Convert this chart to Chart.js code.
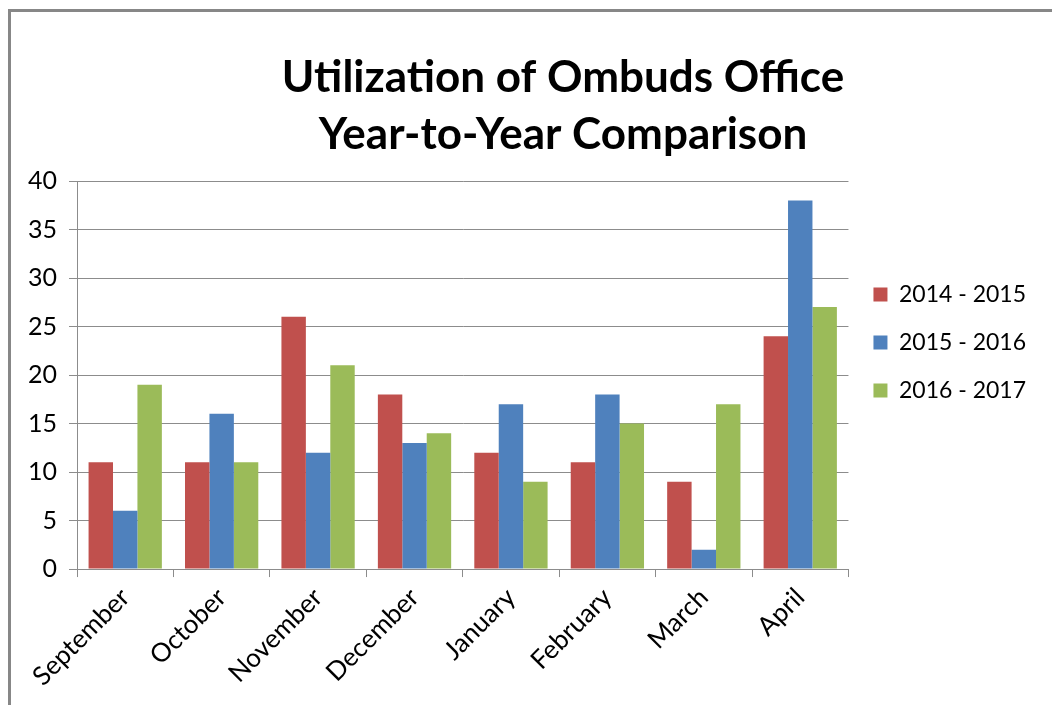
<!DOCTYPE html>
<html>
<head>
<meta charset="utf-8">
<title>Utilization of Ombuds Office</title>
<script src="https://cdn.jsdelivr.net/npm/chart.js@4"></script>
<style>
  html, body { margin: 0; padding: 0; background: #fff; overflow: hidden; }
  #frame { position: absolute; left: 8px; top: 9px; width: 1100px; height: 760px; border: 3px solid #878787; }
  #wrap { position: absolute; left: 0; top: 0; width: 1052px; height: 705px; }
</style>
</head>
<body>
<div id="frame"></div>
<div id="wrap"><canvas id="ombudsChart" width="1052" height="705"></canvas></div>
<script>
      // Monthly visits, one array per academic year
      const months = ["September", "October", "November", "December", "January", "February", "March", "April"];
      const year2014 = [11, 11, 26, 18, 12, 11, 9, 24];
      const year2015 = [6, 16, 12, 13, 17, 18, 2, 38];
      const year2016 = [19, 11, 21, 14, 9, 15, 17, 27];
      const yearLabels = ["2014 - 2015", "2015 - 2016", "2016 - 2017"];
      const titleLines = ["Utilization of Ombuds Office", "Year-to-Year Comparison"];

      const fontFamily = "Lato";
      const gridGray = "#8c8c8c";

      // Two-line bold heading, drawn a little right of centre
      const headingPlugin = {
        id: "heading",
        afterDraw(chart) {
          const c = chart.ctx;
          c.save();
          c.font = "bold 44px " + fontFamily;
          c.fillStyle = "#000";
          c.textAlign = "center";
          c.textBaseline = "alphabetic";
          c.fillText(titleLines[0], 563, 92);
          c.fillText(titleLines[1], 563, 149);
          c.restore();
        },
      };

      const ctx = document.getElementById("ombudsChart").getContext("2d");
      const chart = new Chart(ctx, {
        type: "bar",
        data: {
          labels: months,
          datasets: [
            { label: yearLabels[0], data: year2014, backgroundColor: "#C0504D" },
            { label: yearLabels[1], data: year2015, backgroundColor: "#4F81BD" },
            { label: yearLabels[2], data: year2016, backgroundColor: "#9BBB59" },
          ],
        },
        options: {
          responsive: false,
          animation: false,
          devicePixelRatio: 1,
          datasets: {
            bar: { categoryPercentage: 0.76, barPercentage: 1, borderWidth: 0 },
          },
          layout: {
            padding: { top: 181, left: 16, right: 16, bottom: 8 },
          },
          plugins: {
            title: { display: false },
            tooltip: { enabled: false },
            legend: {
              position: "right",
              fullSize: false,
              align: "start",
              // blank title pushes the entries down beside the middle of the plot
              title: { display: true, text: "", padding: { top: 53, bottom: 0 }, font: { size: 20 } },
              labels: {
                boxWidth: 14,
                boxHeight: 14,
                padding: 25,
                color: "#000",
                font: { family: fontFamily, size: 23 },
              },
            },
          },
          scales: {
            x: {
              grid: { drawOnChartArea: false, drawTicks: true, tickLength: 8, color: gridGray },
              border: { color: gridGray },
              ticks: {
                minRotation: 45,
                maxRotation: 45,
                padding: 5,
                color: "#000",
                font: { family: fontFamily, size: 26 },
              },
            },
            y: {
              min: 0,
              max: 40,
              ticks: { stepSize: 5, padding: 12, color: "#000", font: { family: fontFamily, size: 25 } },
              grid: { color: gridGray, tickLength: 8 },
              border: { color: gridGray },
            },
          },
        },
        plugins: [headingPlugin],
      });
</script>
</body>
</html>
